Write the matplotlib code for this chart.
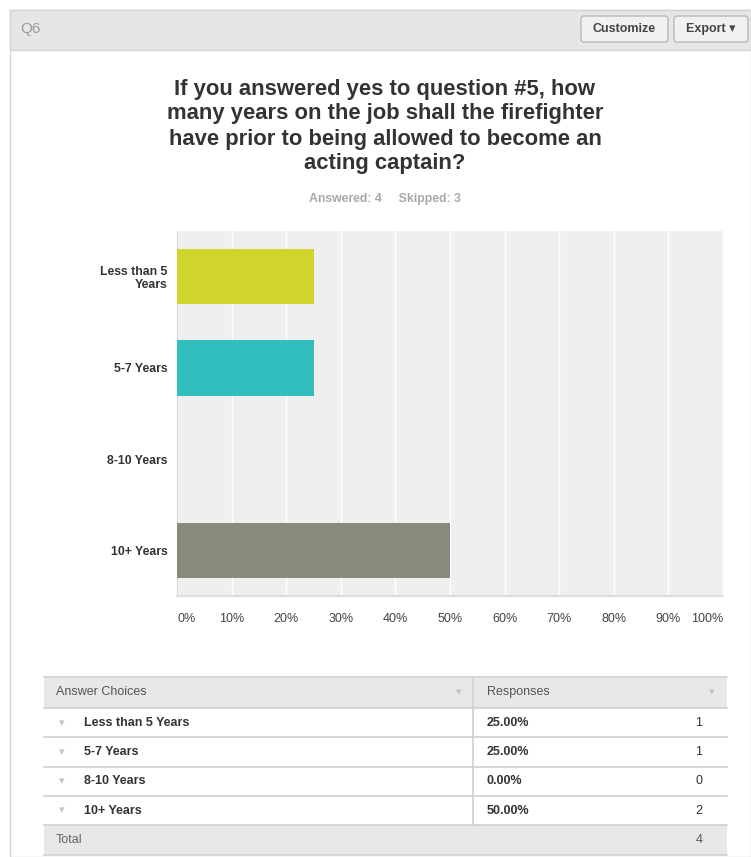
import matplotlib.pyplot as plt
from matplotlib.patches import Rectangle, FancyBboxPatch

W, H = 751, 857

# Data
categories = ['Less than 5\nYears', '5-7 Years', '8-10 Years', '10+ Years']
table_labels = ['Less than 5 Years', '5-7 Years', '8-10 Years', '10+ Years']
percents = [25.0, 25.0, 0.0, 50.0]
counts = [1, 1, 0, 2]
bar_colors = ['#cfd52a', '#32bdbe', '#ffffff', '#888a7b']
xticks = [0, 10, 20, 30, 40, 50, 60, 70, 80, 90, 100]
answered, skipped = 4, 3

plt.rcParams['font.family'] = ['Liberation Sans', 'DejaVu Sans']

fig = plt.figure(figsize=(W / 100, H / 100), dpi=100)
fig.patch.set_facecolor('white')


def fx(x):
    return x / W


def fy(y):
    return 1 - y / H


def rect(x0, y0, x1, y1, **kw):
    fig.patches.append(Rectangle((fx(x0), fy(y1)), fx(x1) - fx(x0), fy(y0) - fy(y1),
                                 transform=fig.transFigure, zorder=-5, **kw))


# Panel and header
rect(10, 10, 751, 857, facecolor='white', edgecolor='#d4d4d4', lw=1)
rect(10, 10, 751, 50, facecolor='#e6e6e6', edgecolor='#d4d4d4', lw=1)
fig.text(fx(20), fy(29), 'Q6', fontsize=11, color='#9a9a9a', va='center')
for x0, x1, txt in [(581, 668, 'Customize'), (674, 748, 'Export \u25be')]:
    fig.patches.append(FancyBboxPatch((fx(x0), fy(42)), fx(x1) - fx(x0), fy(16) - fy(42),
                                      boxstyle='round,pad=0,rounding_size=0.004',
                                      transform=fig.transFigure, facecolor='#f1f1f1',
                                      edgecolor='#b8b8b8', lw=1, zorder=-4))
    fig.text(fx((x0 + x1) / 2), fy(29), txt, fontsize=9, fontweight='bold',
             color='#444444', ha='center', va='center')

# Title
title_lines = ['If you answered yes to question #5, how',
               'many years on the job shall the firefighter',
               'have prior to being allowed to become an',
               'acting captain?']
for i, line in enumerate(title_lines):
    fig.text(fx(385), fy(89 + 25 * i), line, fontsize=15.8, fontweight='bold',
             color='#333333', ha='center', va='center')
fig.text(fx(385), fy(199), f'Answered: {answered}     Skipped: {skipped}', fontsize=8.8,
         fontweight='bold', color='#a8a8a8', ha='center', va='center')

# Chart
ax = fig.add_axes([fx(177), fy(596), fx(723) - fx(177), fy(231) - fy(596)])
ax.set_zorder(2)
ax.set_facecolor('#efefef')
ypos = list(range(len(categories)))
ax.barh(ypos, percents, height=0.61, color=bar_colors, zorder=3)
ax.set_xlim(0, 100)
ax.set_ylim(3.5, -0.5)
ax.set_xticks(xticks)
xlabels = ax.set_xticklabels([f'{t}%' for t in xticks], fontsize=9, color='#444444')
xlabels[0].set_ha('left')
xlabels[-1].set_ha('right')
ax.set_yticks(ypos)
ax.set_yticklabels(categories, fontsize=8.8, fontweight='bold', color='#333333',
                   linespacing=1.05)
ax.tick_params(length=0)
ax.tick_params(axis='x', pad=12)
ax.tick_params(axis='y', pad=7)
ax.grid(axis='x', color='white', lw=1, zorder=1)
for s in ['top', 'right']:
    ax.spines[s].set_visible(False)
ax.spines['bottom'].set_color('#dddddd')
ax.spines['bottom'].set_linewidth(1.5)
ax.spines['left'].set_color('#d6d6d6')

# Table
tx0, tx1, tdiv = 44, 727, 473
rect(tx0, 677, tx1, 708, facecolor='#e8e8e8', edgecolor='none')
fig.text(fx(56), fy(692), 'Answer Choices', fontsize=9, color='#555555', va='center')
fig.text(fx(487), fy(692), 'Responses', fontsize=9, color='#555555', va='center')
for xa in [459, 712]:
    fig.text(fx(xa), fy(692), '\u25be', fontsize=8, color='#c4c4c4', ha='center', va='center')
row_top = 708
row_h = 29.3
for i, (lab, p, c) in enumerate(zip(table_labels, percents, counts)):
    yc = row_top + row_h * (i + 0.5)
    fig.text(fx(62), fy(yc), '\u25be', fontsize=8, color='#c4c4c4', ha='center', va='center')
    fig.text(fx(84), fy(yc), lab, fontsize=9, fontweight='bold', color='#333333', va='center')
    fig.text(fx(487), fy(yc), f'{p:.2f}%', fontsize=9, fontweight='bold', color='#333333',
             va='center')
    fig.text(fx(699), fy(yc), str(c), fontsize=9, color='#333333', ha='center', va='center')
ybot = row_top + row_h * len(table_labels)
rect(tx0, ybot, tx1, ybot + 30, facecolor='#e8e8e8', edgecolor='none')
fig.text(fx(56), fy(ybot + 15), 'Total', fontsize=9, color='#666666', va='center')
fig.text(fx(699), fy(ybot + 15), str(sum(counts)), fontsize=9, color='#555555',
         ha='center', va='center')
for k in range(len(table_labels) + 2):
    yl = 677 if k == 0 else row_top + row_h * (k - 1)
    fig.add_artist(plt.Line2D([fx(tx0), fx(tx1)], [fy(yl), fy(yl)], color='#d0d0d0', lw=1.2))
fig.add_artist(plt.Line2D([fx(tx0), fx(tx1)], [fy(ybot + 30), fy(ybot + 30)],
                          color='#d0d0d0', lw=1.2))
fig.add_artist(plt.Line2D([fx(tdiv), fx(tdiv)], [fy(677), fy(ybot)], color='#d0d0d0', lw=1.2))

fig.savefig('out.png', dpi=100)
